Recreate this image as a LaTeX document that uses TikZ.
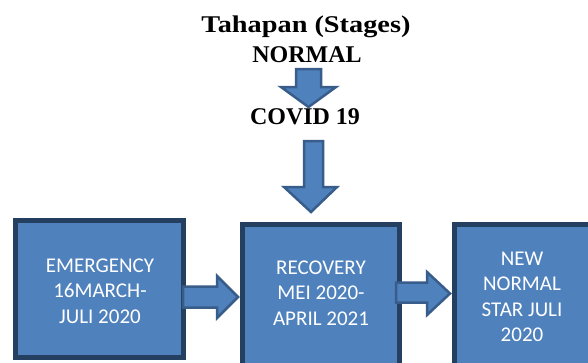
\documentclass[tikz,border=0pt]{standalone}
\usepackage{fontspec}
\setmainfont{Liberation Serif}
\newfontfamily\boxfont{Carlito}
\newfontfamily\widetitle{Liberation Serif}[FakeStretch=1.18]
\definecolor{fillblue}{HTML}{4F81BD}
\definecolor{edgeblue}{HTML}{385D8A}
\definecolor{boxedge}{HTML}{243F60}
\tikzset{
  stagebox/.style={draw=boxedge, line width=5pt, fill=fillblue},
  blockarrow/.style={draw=edgeblue, line width=2.5pt, fill=fillblue, line join=miter},
  boxtext/.style={text=white, align=center, font=\boxfont\fontsize{21}{25.5}\selectfont, inner sep=0pt},
  titletext/.style={font=\bfseries\fontsize{24}{26}\selectfont, inner sep=0pt}
}
\begin{document}
\begin{tikzpicture}[x=1pt,y=-1pt]
\clip (0,0) rectangle (588,362);
\fill[white] (0,0) rectangle (588,362);
% titles
\node[titletext, font=\widetitle\bfseries\fontsize{24}{26}\selectfont] (title) at (306,27) {Tahapan (Stages)};
\node[titletext] (normal) at (307,55) {NORMAL};
\node[titletext] (covid) at (305,117) {COVID 19};
% boxes
\draw[stagebox] (15.5,220.5) rectangle (183.5,357.5);
\draw[stagebox] (242.5,224.5) rectangle (399.5,385);
\draw[stagebox] (454.5,224.5) rectangle (620,385);
\node[boxtext] (emergency) at (100,291) {EMERGENCY\\16MARCH-\\JULI 2020};
\node[boxtext] (recovery) at (321,293) {RECOVERY\\MEI 2020-\\APRIL 2021};
\node[boxtext] (newnormal) at (522,297) {NEW\\NORMAL\\STAR JULI\\2020};
% down arrows
\draw[blockarrow] (296,69) -- (321,69) -- (321,87) -- (336,87) -- (308.5,107) -- (281,87) -- (296,87) -- cycle;
\draw[blockarrow] (304,141) -- (323,141) -- (323,187) -- (337,187) -- (311,212) -- (284,187) -- (304,187) -- cycle;
% right arrows
\draw[blockarrow] (183,286.5) -- (217,286.5) -- (217,276) -- (238,297) -- (217,318) -- (217,307.5) -- (183,307.5) -- cycle;
\draw[blockarrow] (396,282.5) -- (427,282.5) -- (427,272) -- (450,293.5) -- (427,315) -- (427,302.5) -- (396,302.5) -- cycle;
\end{tikzpicture}
\end{document}
